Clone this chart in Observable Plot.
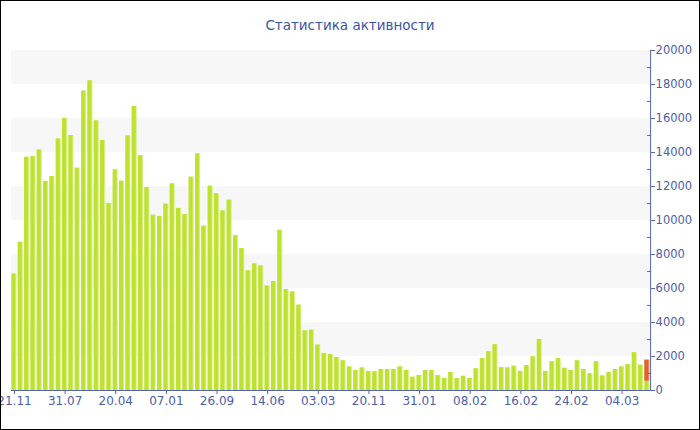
<!DOCTYPE html>
<html>
<head>
<meta charset="utf-8">
<script src="https://cdn.jsdelivr.net/npm/d3@7"></script>
<script src="https://cdn.jsdelivr.net/npm/@observablehq/plot@0.6"></script>
<style>
  html, body { margin: 0; padding: 0; background: #fff; }
  #wrap { position: relative; width: 700px; height: 430px; box-sizing: border-box; border: 1px solid #000; overflow: hidden; background: #fff; }
  #title { height: 39px; line-height: 49px; text-align: center; font-family: "DejaVu Sans", Verdana, sans-serif; font-size: 13.5px; color: #3a54a4; }
  #chart svg { display: block; overflow: visible; }
</style>
</head>
<body>
<div id="wrap">
  <div id="title">Статистика активности</div>
  <div id="chart"></div>
</div>
<script>
// ---- data ----
const mainValues = [
  6850, 8720, 13720, 13770, 14150, 12300, 12590, 14800, 16000, 15000,
  13080, 17610, 18220, 15860, 14700, 11000, 12980, 12310, 14980, 16710,
  13820, 11940, 10310, 10240, 10960, 12160, 10710, 10350, 12550, 13920,
  9670, 12020, 11570, 10570, 11200, 9120, 8350, 7040, 7450, 7330,
  6150, 6410, 9430, 5940, 5800, 5020, 3510, 3550, 2670, 2180,
  2120, 1940, 1750, 1390, 1180, 1330, 1120, 1100, 1240, 1240,
  1240, 1390, 1180, 780, 880, 1180, 1180, 880, 710, 1060,
  710, 840, 710, 1280, 1880, 2290, 2690, 1350, 1330, 1430,
  1120, 1470, 1980, 3000, 1120, 1690, 1880, 1310, 1180, 1750,
  1240, 980, 1690, 860, 1060, 1240, 1390, 1530, 2220, 1490,
  550
];
const currentIndex = [100];
const currentValues = [1235];

const tickIndex = [0, 8, 16, 24, 32, 40, 48, 56, 64, 72, 80, 88, 96];
const tickLabels = ["21.11", "31.07", "20.04", "07.01", "26.09", "14.06", "03.03",
                    "20.11", "31.01", "08.02", "16.02", "24.02", "04.03"];

const yTicks = [0, 2000, 4000, 6000, 8000, 10000, 12000, 14000, 16000, 18000, 20000];
const yMinorTicks = [1000, 3000, 5000, 7000, 9000, 11000, 13000, 15000, 17000, 19000];
const bandLow = [2000, 6000, 10000, 14000, 18000];
const bandHigh = [4000, 8000, 12000, 16000, 20000];

// ---- build tables ----
const rows = mainValues.map((v, i) => ({i, series: "main", value: v}));
currentIndex.forEach((idx, k) => rows.push({i: idx, series: "current", value: currentValues[k]}));
const bands = bandLow.map((lo, k) => ({lo, hi: bandHigh[k]}));
const labelOf = new Map(tickIndex.map((t, k) => [t, tickLabels[k]]));

const fillMain = {main: "#bee231", current: "#e2612b"};
const fillEdge = {main: "#dcef8e", current: "#f0a07c"};
const axisColor = "#5565ad";

const chart = Plot.plot({
  width: 698,
  height: 389,
  marginLeft: 9.8,
  marginRight: 48.9,
  marginTop: 10,
  marginBottom: 39,
  style: {fontFamily: "DejaVu Sans, Verdana, sans-serif", fontSize: "12px", color: "#4d5ea8", background: "transparent"},
  x: {type: "band", domain: d3.range(mainValues.length), paddingInner: 0.2, paddingOuter: 0.1, axis: null, label: null},
  y: {domain: [0, 20000], axis: null, label: null},
  color: {type: "identity"},
  marks: [
    Plot.rectY(bands, {y1: "lo", y2: "hi", fill: "#f7f7f7"}),
    Plot.barY(rows, Plot.stackY({x: "i", y: "value", order: ["main", "current"], z: "series", fill: d => fillEdge[d.series]})),
    Plot.barY(rows, Plot.stackY({x: "i", y: "value", order: ["main", "current"], z: "series", fill: d => fillMain[d.series], insetRight: 1})),
    Plot.frame({anchor: "bottom", stroke: axisColor}),
    Plot.frame({anchor: "right", stroke: axisColor}),
    Plot.axisX({ticks: tickIndex, tickFormat: i => labelOf.get(i), tickSize: 4, tickPadding: 2, stroke: axisColor, fill: "#4d5ea8", fontSize: 12, label: null}),
    Plot.axisY({anchor: "right", ticks: yTicks, tickFormat: d => String(d), tickSize: 4, tickPadding: 1, stroke: axisColor, fill: "#4d5ea8", fontSize: 11.5, label: null}),
    Plot.axisY({anchor: "right", ticks: yMinorTicks, text: null, tickSize: -4, stroke: axisColor, label: null})
  ]
});
document.getElementById("chart").appendChild(chart);
</script>
</body>
</html>
